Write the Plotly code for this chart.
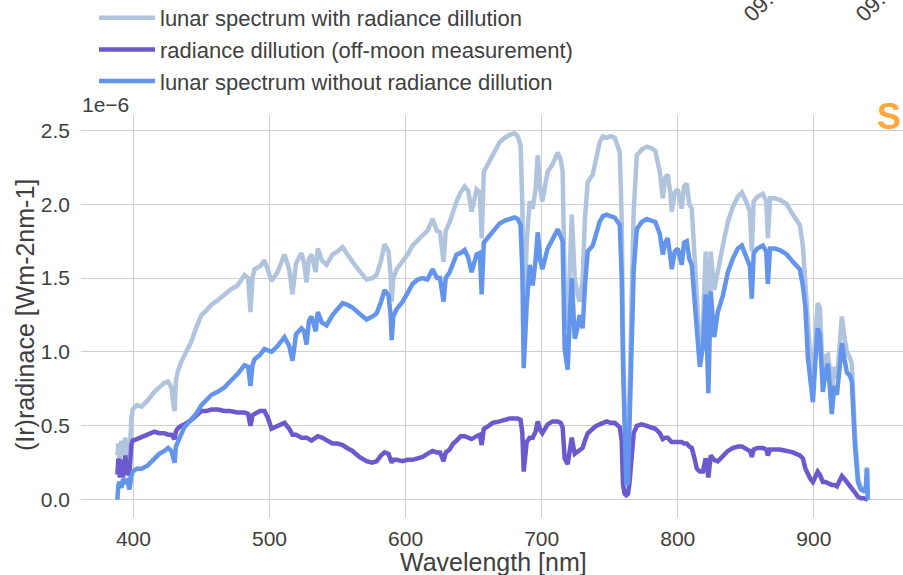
import plotly.graph_objects as go

# wavelength grid [nm]
wavelength = [388.2, 389.0, 390.0, 391.2, 392.5, 394.0, 395.5, 397.1, 398.5, 399.5, 402.5, 406.0, 410.3, 415.4,
              419.0, 422.8, 425.5, 427.9, 429.5, 430.3, 431.2, 432.4, 435.0, 437.5, 442.6, 446.0, 450.0, 453.5,
              457.4, 462.0, 466.9, 471.0, 476.5, 481.6, 484.3, 486.0, 487.5, 489.0, 493.0, 496.3, 499.0, 501.5,
              505.9, 511.0, 514.5, 516.9, 519.5, 523.5, 525.5, 527.2, 529.0, 530.9, 534.0, 535.5, 538.5, 541.9,
              546.3, 550.0, 553.7, 557.0, 561.0, 566.0, 571.3, 575.5, 578.7, 582.0, 584.6, 587.5, 589.0, 589.8,
              591.0, 593.4, 597.8, 601.5, 605.1, 609.0, 612.5, 616.0, 619.9, 623.0, 625.3, 627.9, 629.5, 632.4,
              635.0, 637.5, 640.5, 643.4, 646.0, 648.5, 652.2, 654.6, 655.9, 657.5, 661.0, 664.0, 669.1, 673.0,
              676.5, 680.0, 682.4, 684.5, 685.8, 686.8, 688.0, 689.0, 691.2, 693.4, 695.5, 697.1, 699.0, 700.5,
              704.4, 708.0, 711.8, 714.0, 715.4, 716.9, 719.1, 720.5, 722.1, 724.3, 726.0, 727.9, 730.1, 731.8,
              733.8, 737.5, 740.0, 742.6, 745.0, 747.8, 750.5, 753.7, 757.4, 758.8, 759.8, 761.0, 762.2, 763.4,
              764.6, 766.2, 767.6, 769.9, 773.5, 777.2, 780.5, 783.5, 786.8, 789.0, 790.8, 792.6, 794.5, 795.6,
              797.8, 800.0, 802.9, 804.6, 806.6, 808.5, 810.3, 812.3, 814.0, 816.2, 818.4, 820.5, 822.5, 824.2,
              826.8, 829.4, 833.1, 836.8, 840.4, 844.1, 847.1, 850.2, 853.0, 854.4, 855.8, 858.5, 862.5, 865.0,
              866.2, 867.8, 871.0, 875.0, 880.1, 884.6, 889.7, 891.9, 893.8, 895.6, 897.5, 899.3, 901.0, 902.8,
              904.4, 906.6, 908.5, 910.3, 911.8, 913.2, 915.0, 916.9, 919.0, 920.6, 922.5, 924.3, 926.5, 927.9,
              930.1, 932.4, 934.5, 936.5, 938.2, 939.0, 939.7]

# values in units of 1e-6 W m-2 nm-1
with_dilution = [0.30, 0.38, 0.27, 0.40, 0.30, 0.42, 0.33, 0.28, 0.55, 0.61, 0.64, 0.63, 0.67, 0.73,
                 0.76, 0.79, 0.80, 0.76, 0.64, 0.60, 0.80, 0.86, 0.93, 0.98, 1.07, 1.16, 1.25, 1.28,
                 1.32, 1.35, 1.39, 1.42, 1.45, 1.52, 1.50, 1.27, 1.50, 1.56, 1.58, 1.62, 1.55, 1.48,
                 1.54, 1.66, 1.56, 1.39, 1.60, 1.67, 1.60, 1.47, 1.63, 1.66, 1.54, 1.70, 1.62, 1.59,
                 1.66, 1.68, 1.71, 1.66, 1.61, 1.55, 1.49, 1.50, 1.52, 1.62, 1.73, 1.68, 1.52, 1.34,
                 1.50, 1.56, 1.61, 1.66, 1.72, 1.76, 1.79, 1.82, 1.90, 1.82, 1.81, 1.61, 1.82, 1.88,
                 1.96, 2.02, 2.08, 2.12, 2.09, 1.95, 2.10, 2.08, 1.77, 2.22, 2.28, 2.33, 2.42, 2.45,
                 2.47, 2.48, 2.46, 2.40, 2.00, 1.08, 1.40, 1.75, 2.02, 1.97, 2.10, 2.33, 2.10, 2.02,
                 2.22, 2.27, 2.35, 2.30, 2.22, 1.45, 1.15, 1.50, 1.93, 1.50, 1.40, 1.34, 1.50, 1.90,
                 2.15, 2.20, 2.30, 2.42, 2.46, 2.45, 2.46, 2.45, 2.35, 1.90, 1.10, 0.55, 0.38, 0.45,
                 0.75, 1.43, 1.95, 2.33, 2.37, 2.39, 2.38, 2.36, 2.22, 2.04, 2.18, 2.20, 2.08, 1.95,
                 2.08, 2.10, 1.97, 2.12, 2.14, 2.00, 1.97, 1.65, 1.32, 1.00, 1.15, 1.68, 1.00, 1.68,
                 1.42, 1.56, 1.72, 1.88, 1.98, 2.05, 2.08, 2.02, 1.95, 1.68, 2.02, 2.05, 2.07, 2.02,
                 1.77, 2.04, 2.04, 2.03, 2.00, 1.93, 1.86, 1.72, 1.48, 1.20, 0.95, 0.85, 1.10, 1.33,
                 1.30, 0.85, 0.97, 0.98, 0.88, 0.72, 0.90, 0.82, 1.05, 1.24, 1.10, 1.00, 0.96, 0.92,
                 0.46, 0.15, 0.08, 0.07, 0.08, 0.22, 0.00]

off_moon = [0.17, 0.28, 0.15, 0.27, 0.15, 0.30, 0.18, 0.17, 0.37, 0.40, 0.41, 0.42, 0.44, 0.46,
            0.45, 0.45, 0.44, 0.44, 0.41, 0.41, 0.46, 0.48, 0.50, 0.51, 0.54, 0.57, 0.60, 0.60,
            0.61, 0.61, 0.60, 0.60, 0.59, 0.59, 0.58, 0.50, 0.57, 0.58, 0.60, 0.60, 0.55, 0.48,
            0.50, 0.52, 0.48, 0.44, 0.44, 0.42, 0.42, 0.42, 0.41, 0.40, 0.42, 0.43, 0.42, 0.40,
            0.38, 0.38, 0.37, 0.35, 0.33, 0.29, 0.26, 0.25, 0.26, 0.30, 0.32, 0.31, 0.28, 0.25,
            0.27, 0.27, 0.26, 0.27, 0.27, 0.28, 0.29, 0.31, 0.33, 0.32, 0.32, 0.26, 0.32, 0.34,
            0.38, 0.40, 0.43, 0.43, 0.42, 0.41, 0.43, 0.44, 0.37, 0.48, 0.50, 0.52, 0.53, 0.54,
            0.55, 0.55, 0.55, 0.54, 0.45, 0.19, 0.30, 0.39, 0.42, 0.42, 0.46, 0.53, 0.47, 0.45,
            0.51, 0.53, 0.53, 0.52, 0.49, 0.28, 0.24, 0.32, 0.42, 0.31, 0.32, 0.33, 0.35, 0.40,
            0.45, 0.48, 0.50, 0.51, 0.52, 0.53, 0.52, 0.52, 0.49, 0.40, 0.10, 0.04, 0.03, 0.04,
            0.12, 0.30, 0.45, 0.50, 0.51, 0.50, 0.49, 0.48, 0.45, 0.41, 0.42, 0.42, 0.40, 0.39,
            0.39, 0.39, 0.39, 0.38, 0.38, 0.36, 0.35, 0.28, 0.21, 0.19, 0.19, 0.28, 0.15, 0.30,
            0.27, 0.26, 0.30, 0.33, 0.35, 0.36, 0.36, 0.34, 0.33, 0.29, 0.34, 0.35, 0.35, 0.34,
            0.30, 0.34, 0.34, 0.34, 0.33, 0.32, 0.30, 0.28, 0.21, 0.17, 0.14, 0.12, 0.15, 0.19,
            0.17, 0.12, 0.12, 0.11, 0.11, 0.10, 0.10, 0.09, 0.13, 0.16, 0.14, 0.12, 0.10, 0.08,
            0.05, 0.02, 0.01, 0.01, 0.00, 0.00, 0.00]

without_dilution = [0.00, 0.10, 0.12, 0.08, 0.14, 0.12, 0.13, 0.07, 0.16, 0.19, 0.21, 0.21, 0.23, 0.28,
                    0.31, 0.33, 0.35, 0.33, 0.27, 0.25, 0.36, 0.39, 0.44, 0.49, 0.54, 0.58, 0.64, 0.67,
                    0.71, 0.73, 0.76, 0.80, 0.85, 0.91, 0.90, 0.77, 0.91, 0.95, 0.98, 1.02, 1.01, 1.00,
                    1.04, 1.10, 1.04, 0.94, 1.12, 1.16, 1.14, 1.05, 1.21, 1.24, 1.14, 1.27, 1.20, 1.18,
                    1.25, 1.29, 1.33, 1.32, 1.30, 1.26, 1.22, 1.24, 1.26, 1.34, 1.42, 1.38, 1.25, 1.08,
                    1.24, 1.29, 1.34, 1.40, 1.46, 1.49, 1.50, 1.49, 1.56, 1.50, 1.50, 1.34, 1.50, 1.54,
                    1.60, 1.66, 1.67, 1.69, 1.64, 1.54, 1.66, 1.67, 1.39, 1.74, 1.78, 1.81, 1.87, 1.89,
                    1.90, 1.91, 1.90, 1.86, 1.55, 0.89, 1.12, 1.32, 1.59, 1.45, 1.62, 1.81, 1.62, 1.56,
                    1.70, 1.76, 1.83, 1.78, 1.75, 1.02, 0.88, 1.20, 1.50, 1.09, 1.15, 1.25, 1.16, 1.45,
                    1.68, 1.72, 1.80, 1.88, 1.92, 1.93, 1.92, 1.91, 1.86, 1.50, 0.90, 0.30, 0.10, 0.12,
                    0.50, 1.00, 1.55, 1.83, 1.88, 1.90, 1.89, 1.88, 1.80, 1.66, 1.74, 1.77, 1.65, 1.56,
                    1.68, 1.70, 1.59, 1.74, 1.75, 1.63, 1.59, 1.38, 1.16, 0.90, 1.03, 1.39, 0.72, 1.41,
                    1.10, 1.27, 1.38, 1.54, 1.63, 1.70, 1.72, 1.64, 1.58, 1.36, 1.67, 1.70, 1.72, 1.68,
                    1.46, 1.70, 1.70, 1.69, 1.66, 1.61, 1.56, 1.45, 1.30, 0.96, 0.80, 0.66, 0.92, 1.16,
                    1.12, 0.73, 0.86, 0.92, 0.75, 0.58, 0.77, 0.71, 0.90, 1.06, 0.95, 0.86, 0.84, 0.80,
                    0.38, 0.12, 0.07, 0.06, 0.08, 0.21, 0.00]

y_ticks = [0.0, 0.5, 1.0, 1.5, 2.0, 2.5]
x_ticks = [400, 500, 600, 700, 800, 900]

series = [
    ("lunar spectrum with radiance dillution", with_dilution, "#B0C4DE"),
    ("radiance dillution (off-moon measurement)", off_moon, "#6A5ACD"),
    ("lunar spectrum without radiance dillution", without_dilution, "#6495ED"),
]

FONT = "Liberation Sans, Arial, sans-serif"
TXT = "#404040"

L, T, B = 81, 115, 57
PW, PH = 903 - L, 575 - T - B


def px(xp):
    return (xp - L) / PW


def py(yp):
    return (575 - B - yp) / PH


fig = go.Figure()
for name, vals, col in series:
    fig.add_trace(go.Scatter(x=wavelength, y=vals, mode="lines", name=name,
                             line=dict(color=col, width=4.5)))

fig.update_layout(
    width=903, height=575,
    margin=dict(l=L, r=0, t=T, b=B, autoexpand=False),
    paper_bgcolor="white", plot_bgcolor="white",
    font=dict(family=FONT, color=TXT, size=20),
    showlegend=True,
    legend=dict(x=px(94), y=py(-3), xanchor="left", yanchor="top",
                font=dict(size=22, color=TXT),
                bgcolor="rgba(0,0,0,0)", itemwidth=56),
    xaxis=dict(range=[361.5, 965.5], tickvals=x_ticks, showgrid=True,
               gridcolor="#cfcfcf", gridwidth=1.2, zeroline=False, showline=False,
               tickfont=dict(size=21, color=TXT), ticks="", ticklabelstandoff=6),
    yaxis=dict(range=[-0.124, 2.604], tickvals=y_ticks, tickformat=".1f", showgrid=True,
               gridcolor="#cfcfcf", gridwidth=1.2, zeroline=False, showline=False,
               tickfont=dict(size=21, color=TXT), ticks="", ticklabelstandoff=10),
)

annotations = [
    dict(text="Wavelength [nm]", xref="paper", yref="paper", x=px(493), y=py(562),
         xanchor="center", yanchor="middle", showarrow=False, font=dict(size=25, color=TXT)),
    dict(text="(Ir)radinace [Wm-2nm-1]", xref="paper", yref="paper", x=px(25), y=py(315),
         xanchor="center", yanchor="middle", textangle=-90, showarrow=False, font=dict(size=25, color=TXT)),
    dict(text="1e\u22126", xref="paper", yref="paper", x=px(80), y=py(104),
         xanchor="left", yanchor="middle", showarrow=False, font=dict(size=21, color=TXT)),
    dict(text="<b>S</b>", xref="paper", yref="paper", x=1.0, y=py(116),
         xanchor="right", yanchor="middle", showarrow=False,
         font=dict(size=36, color="#FFA93A", family="Liberation Sans Narrow, Liberation Sans, Arial")),
    dict(text="09:00", xref="paper", yref="paper", x=px(767), y=py(-1),
         xanchor="center", yanchor="middle", textangle=-45, showarrow=False, font=dict(size=22, color=TXT)),
    dict(text="09:30", xref="paper", yref="paper", x=px(879), y=py(-1),
         xanchor="center", yanchor="middle", textangle=-45, showarrow=False, font=dict(size=22, color=TXT)),
]
fig.update_layout(annotations=annotations)

fig.write_html("out.html", config={"displayModeBar": False},
               post_script="document.body.style.margin='0';document.body.style.overflow='hidden';")
